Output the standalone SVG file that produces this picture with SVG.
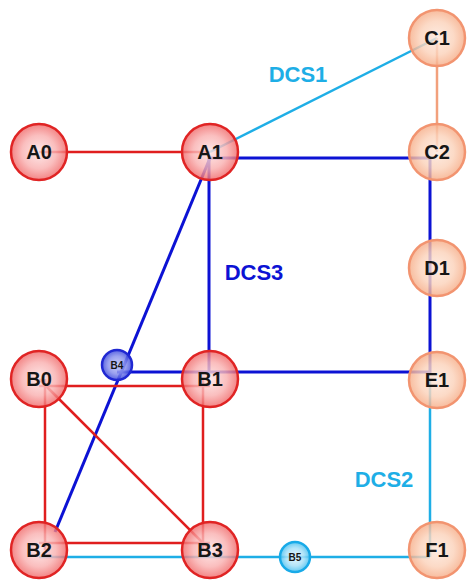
<svg xmlns="http://www.w3.org/2000/svg" width="474" height="588" viewBox="0 0 474 588">
<defs>
<radialGradient id="gr" cx="50%" cy="50%" r="50%"><stop offset="0" stop-color="#fde4e4"/><stop offset="0.6" stop-color="#f9b0b0"/><stop offset="1" stop-color="#f06a6a"/></radialGradient>
<radialGradient id="go" cx="50%" cy="50%" r="50%"><stop offset="0" stop-color="#fde8dc"/><stop offset="0.6" stop-color="#fbd2ba"/><stop offset="1" stop-color="#f6ad88"/></radialGradient>
<radialGradient id="gb" cx="50%" cy="50%" r="50%"><stop offset="0" stop-color="#c4c8f6"/><stop offset="0.6" stop-color="#8890ec"/><stop offset="1" stop-color="#3c48dc"/></radialGradient>
<radialGradient id="gc" cx="50%" cy="50%" r="50%"><stop offset="0" stop-color="#e4f6fd"/><stop offset="0.6" stop-color="#a6e0f8"/><stop offset="1" stop-color="#48c0f0"/></radialGradient>
</defs>
<style>
.red{stroke:#e01e1e;stroke-width:2.5;fill:none}
.blue{stroke:#0c12d4;stroke-width:3;fill:none}
.cyan{stroke:#1eaee6;stroke-width:2.5;fill:none}
.orng{stroke:#f2a07c;stroke-width:2.5;fill:none}
.nr{fill:url(#gr);stroke:#e02424;stroke-width:2.5;fill-opacity:0.82}
.no{fill:url(#go);stroke:#f29470;stroke-width:2.5;fill-opacity:0.82}
.nb{fill:url(#gb);stroke:#2028d2;stroke-width:2.5;fill-opacity:0.85}
.nc{fill:url(#gc);stroke:#18aae8;stroke-width:2.5;fill-opacity:0.85}
.lbl{font-family:"Liberation Sans",Arial,sans-serif;font-weight:bold;font-size:20px;fill:#161616;text-anchor:middle}
.sm{font-family:"Liberation Sans",Arial,sans-serif;font-weight:bold;font-size:10px;fill:#161616;text-anchor:middle}
.dcs{font-family:"Liberation Sans",Arial,sans-serif;font-weight:bold;font-size:22px;text-anchor:middle}
</style>
<g id="connectors">
<line class="red" x1="39" y1="152" x2="210" y2="152"/>
<line class="cyan" x1="210" y1="152" x2="437" y2="38"/>
<line class="orng" x1="437" y1="38" x2="437" y2="152"/>
<polyline class="blue" points="210,158 430,158 430,372 117,372"/>
<line class="blue" x1="209" y1="158" x2="209" y2="372"/>
<line class="blue" x1="210" y1="158" x2="55" y2="532"/>
<line class="red" x1="39" y1="386" x2="210" y2="386"/>
<line class="red" x1="45" y1="379" x2="45" y2="550"/>
<line class="red" x1="203" y1="379" x2="203" y2="550"/>
<line class="red" x1="39" y1="543" x2="210" y2="543"/>
<line class="red" x1="39" y1="379" x2="210" y2="550"/>
<line class="cyan" x1="430" y1="380" x2="430" y2="557"/>
<line class="cyan" x1="39" y1="557" x2="430" y2="557"/>
</g>
<g id="A0"><circle class="nr" cx="39" cy="152" r="28"/><text class="lbl" x="39" y="159">A0</text></g>
<g id="A1"><circle class="nr" cx="210" cy="152" r="28"/><text class="lbl" x="210" y="159">A1</text></g>
<g id="C1"><circle class="no" cx="437" cy="38" r="28"/><text class="lbl" x="437" y="45">C1</text></g>
<g id="C2"><circle class="no" cx="437" cy="152" r="28"/><text class="lbl" x="437" y="159">C2</text></g>
<g id="D1"><circle class="no" cx="437" cy="268" r="28"/><text class="lbl" x="437" y="275">D1</text></g>
<g id="E1"><circle class="no" cx="437" cy="380" r="28"/><text class="lbl" x="437" y="387">E1</text></g>
<g id="B0"><circle class="nr" cx="39" cy="379" r="28"/><text class="lbl" x="39" y="386">B0</text></g>
<g id="B1"><circle class="nr" cx="210" cy="379" r="28"/><text class="lbl" x="210" y="386">B1</text></g>
<g id="B2"><circle class="nr" cx="39" cy="550" r="28"/><text class="lbl" x="39" y="557">B2</text></g>
<g id="B3"><circle class="nr" cx="210" cy="550" r="28"/><text class="lbl" x="210" y="557">B3</text></g>
<g id="F1"><circle class="no" cx="437" cy="550" r="28"/><text class="lbl" x="437" y="557">F1</text></g>
<g id="B4"><circle class="nb" cx="117" cy="365" r="15"/><text class="sm" x="117" y="369">B4</text></g>
<g id="B5"><circle class="nc" cx="295" cy="557" r="15"/><text class="sm" x="295" y="561">B5</text></g>
<g id="labels">
<text class="dcs" x="298" y="82" fill="#1eaee6">DCS1</text>
<text class="dcs" x="254" y="280" fill="#0c12d4">DCS3</text>
<text class="dcs" x="384" y="487" fill="#1eaee6">DCS2</text>
</g>
</svg>
